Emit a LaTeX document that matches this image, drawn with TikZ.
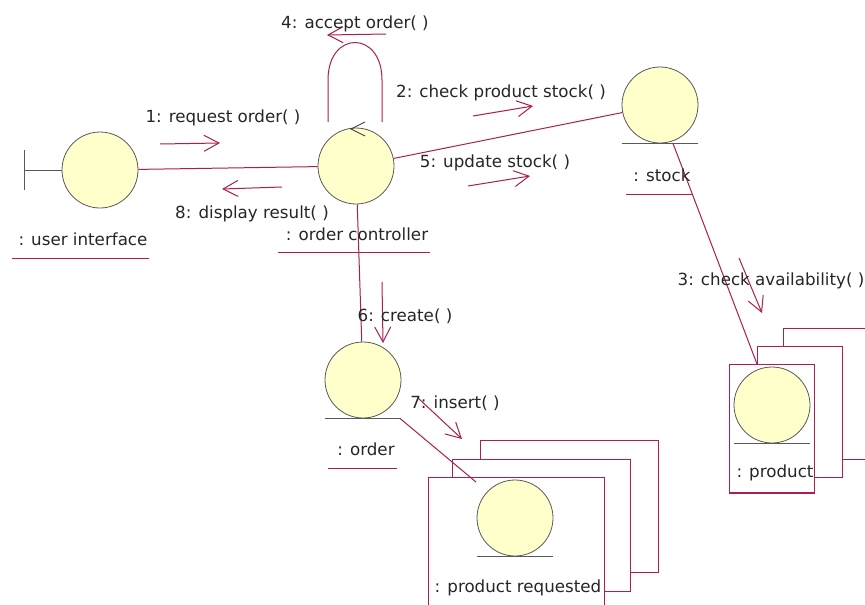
\documentclass[tikz,border=0pt]{standalone}
\usepackage{fontspec}
\setmainfont{DejaVu Sans}
\usetikzlibrary{arrows.meta}
\definecolor{lnkc}{RGB}{170,30,80}
\definecolor{objfill}{RGB}{255,255,204}
\begin{document}
\begin{tikzpicture}[x=1pt,y=-1pt,
 every node/.style={font=\fontsize{16.7}{20}\selectfont, text=black!85},
 obj/.style={circle, draw=black!65, fill=objfill, minimum size=76pt, inner sep=0pt, line width=0.8pt},
 lnk/.style={draw=lnkc, line width=1pt},
 msg/.style={lnk, -{Straight Barb[length=15pt,width=16pt]}},
 lbl/.style={anchor=base, inner sep=0pt},
 ent/.style={draw=black!65, line width=1pt},
 objbox/.style={draw=lnkc, fill=white, line width=1pt}]
\clip (0,0) rectangle (865,605);
\fill[white] (0,0) rectangle (865,605);

% multi-object boxes
\draw[objbox] (783,328) rectangle (900,459);
\draw[objbox] (757,346) rectangle (842,477);
\draw[objbox] (729,364) rectangle (814,493);
\draw[lnkc, line width=2pt] (729,493) -- (814,493);
\draw[objbox] (480,440) rectangle (658,572);
\draw[objbox] (452,459) rectangle (630,591);
\draw[objbox] (428,477) rectangle (604,620);

% objects
\node[obj] (ui) at (100,170) {};
\node[obj] (ctrl) at (356,166) {};
\node[obj] (stock) at (660,105) {};
\node[obj] (order) at (363,380) {};
\node[obj] (prod) at (772,405) {};
\node[obj] (preq) at (515,518) {};

% entity lines
\foreach \n in {stock,order,prod,preq}
  \draw[ent] ([xshift=-38pt]\n.south) -- ([xshift=38pt]\n.south);
% boundary symbol
\coordinate (bnd) at (24,170);
\draw[ent] (ui.west) -- (bnd);
\draw[ent] ([yshift=20pt]bnd) -- ([yshift=-20pt]bnd);

% links
\coordinate (p1) at (757,364);
\coordinate (q1) at (476,482);
\draw[lnk] (ui) -- (ctrl);
\draw[lnk] (ctrl) -- (stock);
\draw[lnk] (ctrl) -- (order);
\draw[lnk] ([xshift=13pt]stock.south) -- (p1);
\draw[lnk] ([xshift=37pt]order.south) -- (q1);
% self link
\draw[lnk] (ctrl.center) ++(-28,-44) -- ++(0,-42) .. controls ++(0,-50) and (382,30) .. (382,80) -- (382,122);
\draw[black!80, line width=0.8pt] (365,122) -- (351,129) -- (365,136);

% underlines
\draw[lnk] (12,258) -- (149,258);
\draw[lnk] (278,252) -- (430,252);
\draw[lnk] (626,194) -- (693,194);
\draw[lnk] (328,468) -- (397,468);

% messages
\coordinate (m1a) at (160,144); \coordinate (m1b) at (220,143);
\coordinate (m8a) at (282,187); \coordinate (m8b) at (222,189);
\coordinate (m4a) at (386,34);  \coordinate (m4b) at (327,35);
\coordinate (m2a) at (473,116); \coordinate (m2b) at (533,106);
\coordinate (m5a) at (468,186); \coordinate (m5b) at (530,176);
\coordinate (m3a) at (739,258); \coordinate (m3b) at (762,313);
\coordinate (m6a) at (382,282); \coordinate (m6b) at (383,343);
\coordinate (m7a) at (418,398); \coordinate (m7b) at (462,439);
\foreach \m in {1,8,4,2,5,3,6,7}
  \draw[msg] (m\m a) -- (m\m b);

% labels
\node[lbl] (l1) at (223,122) {1: request order( )};
\node[lbl] (l8) at (252,218) {8: display result( )};
\node[lbl] (l4) at (355,28) {4: accept order( )};
\node[lbl] (l2) at (501,97) {2: check product stock( )};
\node[lbl] (l5) at (495,167) {5: update stock( )};
\node[lbl] (l3) at (771,285) {3: check availability( )};
\node[lbl] (l6) at (405,321) {6: create( )};
\node[lbl] (l7) at (455,408) {7: insert( )};
\node[lbl] (nui) at (83,245) {: user interface};
\node[lbl] (nctrl) at (357,240) {: order controller};
\node[lbl] (nstock) at (662,181) {: stock};
\node[lbl] (norder) at (366,455) {: order};
\node[lbl] (nprod) at (775,477) {: product};
\node[lbl] (npreq) at (518,592) {: product requested};
\end{tikzpicture}
\end{document}
